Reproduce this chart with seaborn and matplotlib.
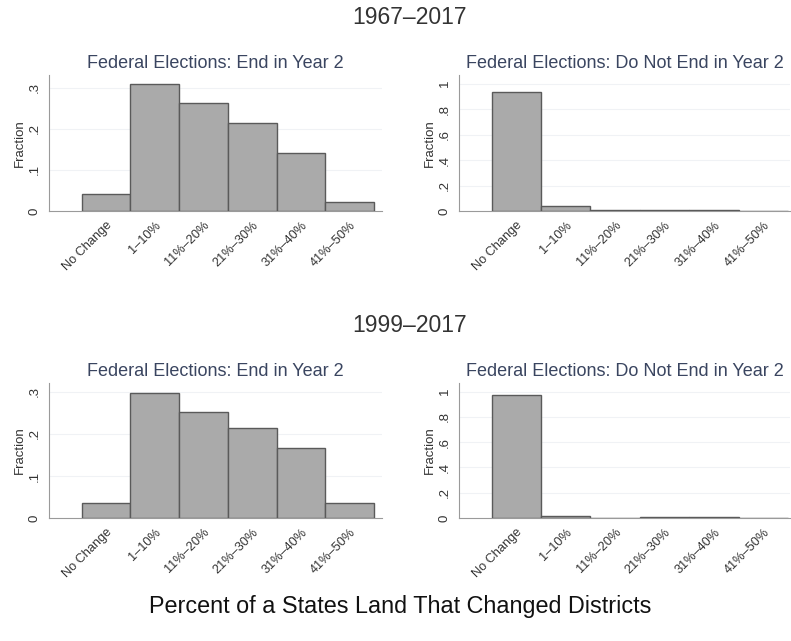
import matplotlib
matplotlib.use("Agg")
import matplotlib.pyplot as plt
import seaborn as sns
import pandas as pd

categories = ["No Change", "1\u201310%", "11%\u201320%", "21%\u201330%", "31%\u201340%", "41%\u201350%"]

# Fraction of observations in each bin
frac_1967_end2 = [0.041, 0.310, 0.263, 0.215, 0.140, 0.022]
frac_1967_not2 = [0.932, 0.042, 0.005, 0.008, 0.004, 0.0]
frac_1999_end2 = [0.035, 0.298, 0.252, 0.215, 0.167, 0.035]
frac_1999_not2 = [0.977, 0.015, 0.0, 0.004, 0.004, 0.0]

period_titles = ["1967\u20132017", "1999\u20132017"]
panel_titles = ["Federal Elections: End in Year 2", "Federal Elections: Do Not End in Year 2"]
ticks_end2 = [0, 0.1, 0.2, 0.3]
ticklabels_end2 = ["0", ".1", ".2", ".3"]
ticks_not2 = [0, 0.2, 0.4, 0.6, 0.8, 1.0]
ticklabels_not2 = ["0", ".2", ".4", ".6", ".8", "1"]

sns.set_style("white")
plt.rcParams["font.family"] = ["Liberation Sans", "DejaVu Sans"]

W, H = 791, 641
fig = plt.figure(figsize=(W / 100, H / 100), dpi=100)


def px_axes(left, right, top, bottom):
    return fig.add_axes([left / W, 1 - bottom / H, (right - left) / W, (bottom - top) / H])


title_color = "#3a4560"
bar_color = "#aaaaaa"
edge_color = "#5a5a5a"
spine_color = "#9a9a9a"
text_color = "#333333"

panels = [
    (frac_1967_end2, panel_titles[0], (49, 382, 75, 211), (-1.17, 5.66), 0.331, ticks_end2, ticklabels_end2),
    (frac_1967_not2, panel_titles[1], (459, 790, 75, 211), (-1.16, 5.54), 1.068, ticks_not2, ticklabels_not2),
    (frac_1999_end2, panel_titles[0], (49, 382, 383, 518), (-1.17, 5.66), 0.321, ticks_end2, ticklabels_end2),
    (frac_1999_not2, panel_titles[1], (459, 790, 383, 518), (-1.16, 5.54), 1.069, ticks_not2, ticklabels_not2),
]

for vals, title, box, xlim, ytop, yt, ytl in panels:
    ax = px_axes(*box)
    df = pd.DataFrame({"bin": categories, "fraction": vals})
    sns.barplot(data=df, x="bin", y="fraction", order=categories, width=1.0,
                color=bar_color, saturation=1, edgecolor=edge_color, linewidth=1.0,
                ax=ax, zorder=3)
    ax.set_xlim(*xlim)
    ax.set_ylim(0, ytop)
    ax.set_yticks(yt)
    ax.set_yticklabels(ytl, rotation=90, va="center", fontsize=9.5, color=text_color)
    ax.set_xticks(range(len(categories)))
    ax.set_xticklabels(categories, rotation=45, ha="right", rotation_mode="anchor",
                       fontsize=9.2, color=text_color)
    ax.tick_params(axis="both", length=3, color=spine_color, width=0.8, pad=3)
    ax.set_xlabel("")
    ax.set_ylabel("Fraction", fontsize=9.5, color=text_color, labelpad=2)
    for gy in yt[1:]:
        ax.axhline(gy, color="#f0f2f5", lw=0.8, zorder=1)
    for s in ["top", "right"]:
        ax.spines[s].set_visible(False)
    for s in ["left", "bottom"]:
        ax.spines[s].set_color(spine_color)
        ax.spines[s].set_linewidth(0.8)
    ax.set_title(title, fontsize=13, color=title_color, pad=5)

fig.text(410 / W, 1 - 18 / H, period_titles[0], ha="center", va="center", fontsize=16.5, color=text_color)
fig.text(410 / W, 1 - 326 / H, period_titles[1], ha="center", va="center", fontsize=16.5, color=text_color)
fig.text(400 / W, 1 - 607 / H, "Percent of a States Land That Changed Districts",
         ha="center", va="center", fontsize=16.8, color="#111111")

fig.savefig("out.png", dpi=100, facecolor="white")
